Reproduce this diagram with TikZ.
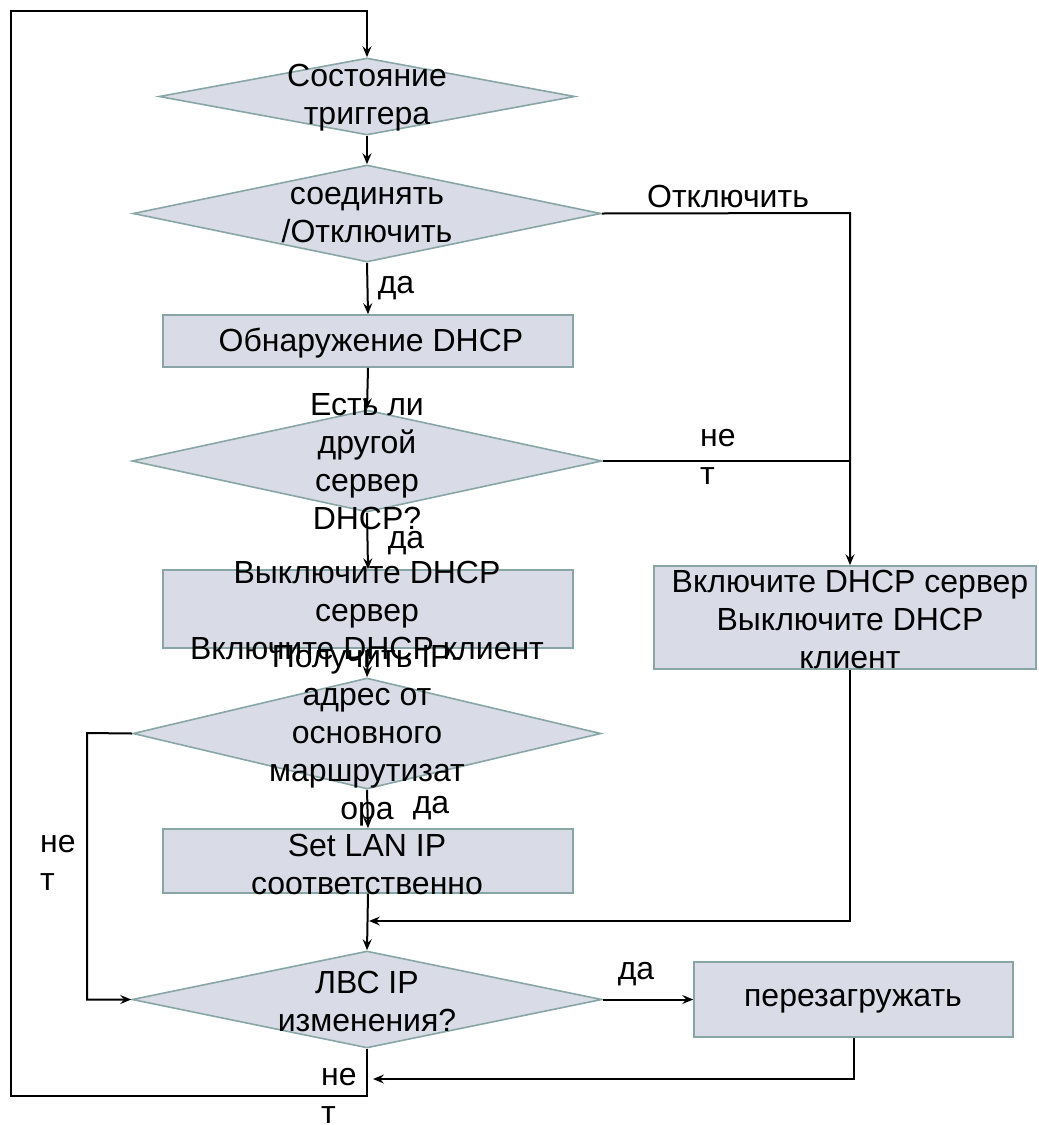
\documentclass[tikz,border=0pt]{standalone}
\usepackage{fontspec}
\setmainfont{Liberation Sans}
\usetikzlibrary{arrows.meta,shapes.geometric}
\definecolor{boxfill}{RGB}{217,219,231}
\definecolor{boxline}{RGB}{136,166,166}
\tikzset{
  txt/.style={font=\fontsize{32}{38}\selectfont, align=center, inner sep=0pt},
  lbl/.style={font=\fontsize{32}{38}\selectfont, align=left, inner sep=0pt},
  dia/.style={diamond, draw=boxline, fill=boxfill, line width=1.6pt, inner sep=0pt, minimum width=#1},
  procbox/.style={draw=boxline, fill=boxfill, line width=1.6pt, inner sep=0pt},
  conn/.style={draw=black, line width=2pt},
  arr/.style={conn, -{Stealth[length=11pt,width=9pt,inset=4pt]}}
}
\begin{document}
\begin{tikzpicture}[x=1pt,y=-1pt]
\useasboundingbox (0,0) rectangle (1039,1125);
% decision shapes
\node[dia=416pt, minimum height=77pt] (d1) at (367,96.5) {};
\node[dia=468pt, minimum height=97pt] (d2) at (367,213.5) {};
\node[dia=470pt, minimum height=102pt] (d3) at (367,461) {};
\node[dia=468pt, minimum height=111pt] (d4) at (367,733.5) {};
\node[dia=470pt, minimum height=97pt] (d5) at (367,999.5) {};
% process boxes
\node[procbox, minimum width=410pt, minimum height=52pt] (b1) at (368,341) {};
\node[procbox, minimum width=410pt, minimum height=78pt] (b2) at (368,609) {};
\node[procbox, minimum width=410pt, minimum height=64pt] (b3) at (368,861) {};
\node[procbox, minimum width=382pt, minimum height=103pt] (rb) at (845,617.5) {};
\node[procbox, minimum width=319pt, minimum height=75pt] (rs) at (853.5,999.5) {};
% coordinates
\coordinate (tl) at (11,11);
\coordinate (bl) at (11,1096);
\coordinate (rj) at (850,213);
\coordinate (lj) at (87,733);
\coordinate (mj) at (369,921);
\coordinate (nj) at (373,1079);
% connectors
\draw[arr] (d5.south) -- (d5.south |- bl) -- (bl) -- (tl) -- (tl -| d1.north) -- (d1.north);
\draw[arr] (d1.south) -- (d2.north);
\draw[arr] (d2.east) -- (rj) -- (rj |- rb.north);
\draw[conn] (d3.east) -- (d3.east -| rj);
\draw[arr] (d2.south) -- (b1.north);
\draw[arr] (b1.south) -- (d3.north);
\draw[arr] (d3.south) -- (b2.north);
\draw[arr] (b2.south) -- (d4.north);
\draw[arr] (d4.south) -- (b3.north);
\draw[arr] (b3.south) -- (d5.north);
\draw[arr] (rb.south -| rj) -- (rj |- mj) -- (mj);
\draw[arr] (d4.west) -- (lj) -- (lj |- d5.west) -- (d5.west);
\draw[arr] (d5.east) -- (rs.west);
\draw[arr] (rs.south) -- (rs.south |- nj) -- (nj);
% texts
\node[txt] (t1) at (367,98) {Состояние\\триггера};
\node[txt] (t2) at (367,215) {соединять\\/Отключить};
\node[txt] (t3) at (371,343) {Обнаружение DHCP};
\node[txt] (t4) at (367,462) {Есть ли\\другой\\сервер\\DHCP?};
\node[txt] (t5) at (367,610) {Выключите DHCP\\сервер\\Включите DHCP клиент};
\node[txt] (t6) at (367,736) {Получить IP-\\адрес от\\основного\\маршрутизат\\ора};
\node[txt] (t7) at (367,864) {Set LAN IP\\соответственно};
\node[txt] (t8) at (850,619) {Включите DHCP сервер\\Выключите DHCP\\клиент};
\node[txt] (t9) at (367,1001) {ЛВС IP\\изменения?};
\node[txt] (t10) at (853,1001) {перезагружать};
% labels
\node[txt] (l1) at (728,196) {Отключить};
\node[txt] (l2) at (396,288) {да};
\node[lbl, anchor=west] (l3) at (700,457) {не\\т};
\node[txt] (l4) at (406,543) {да};
\node[txt] (l5) at (431,808) {да};
\node[lbl, anchor=west] (l6) at (40,863) {не\\т};
\node[txt] (l7) at (636,974) {да};
\node[lbl, anchor=west] (l8) at (321,1096) {не\\т};
\end{tikzpicture}
\end{document}
